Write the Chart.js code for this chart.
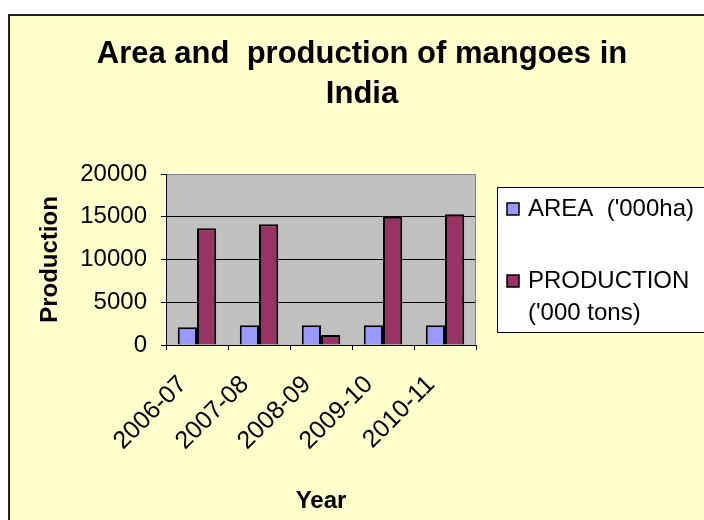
<!DOCTYPE html>
<html>
<head>
<meta charset="utf-8">
<script src="https://cdn.jsdelivr.net/npm/chart.js@4"></script>
<style>
html,body{margin:0;padding:0;background:#fff;}
#wrap{position:relative;width:704px;height:520px;}
</style>
</head>
<body>
<div id="wrap"><canvas id="c" width="704" height="520"></canvas></div>
<script>
const categories = ['2006-07', '2007-08', '2008-09', '2009-10', '2010-11'];
const areaValues = [2070, 2300, 2300, 2300, 2300];
const productionValues = [13650, 14120, 1170, 15010, 15290];
const yTicks = [0, 5000, 10000, 15000, 20000];
const seriesNames = ["AREA  ('000ha)", "PRODUCTION ('000 tons)"];
const titleLines = ['Area and  production of mangoes in', 'India'];

const FONT = "Arial, 'Liberation Sans', sans-serif";

const framePlugin = {
  id: 'frame',
  beforeDraw(chart) {
    const ctx = chart.ctx;
    const a = chart.chartArea;
    ctx.save();
    ctx.fillStyle = '#ffffff';
    ctx.fillRect(0, 0, chart.width, chart.height);
    ctx.fillStyle = '#FFFFCC';
    ctx.fillRect(8, 14, chart.width, chart.height);
    ctx.strokeStyle = '#222222';
    ctx.lineWidth = 2;
    ctx.beginPath();
    ctx.moveTo(9, chart.height + 5);
    ctx.lineTo(9, 15);
    ctx.lineTo(chart.width + 5, 15);
    ctx.stroke();
    ctx.fillStyle = '#C0C0C0';
    ctx.fillRect(a.left, a.top, a.right - a.left, a.bottom - a.top);
    ctx.restore();
  },
  afterDraw(chart) {
    const ctx = chart.ctx;
    const a = chart.chartArea;
    ctx.save();
    ctx.strokeStyle = '#808080';
    ctx.lineWidth = 1;
    ctx.beginPath();
    ctx.moveTo(Math.round(a.right) - 0.5, a.top);
    ctx.lineTo(Math.round(a.right) - 0.5, a.bottom);
    ctx.stroke();

    // legend
    const bx = 497.5, by = 187.5, bw = 240, bh = 145;
    ctx.fillStyle = '#ffffff';
    ctx.fillRect(bx, by, bw, bh);
    ctx.strokeStyle = '#000000';
    ctx.lineWidth = 1;
    ctx.strokeRect(bx, by, bw, bh);
    const ds = chart.data.datasets;
    const items = [
      {color: ds[0].backgroundColor, lines: ["AREA  ('000ha)"], y: 209},
      {color: ds[1].backgroundColor, lines: ['PRODUCTION', "('000 tons)"], y: 281}
    ];
    ctx.font = '24px ' + FONT;
    ctx.textBaseline = 'middle';
    ctx.textAlign = 'left';
    items.forEach(it => {
      ctx.fillStyle = it.color;
      ctx.fillRect(507, it.y - 6, 12, 12);
      ctx.strokeStyle = '#000';
      ctx.lineWidth = 1.5;
      ctx.strokeRect(507, it.y - 6, 12, 12);
      ctx.fillStyle = '#000';
      it.lines.forEach((t, i) => ctx.fillText(t, 528, it.y + i * 32));
    });
    ctx.restore();
  }
};

new Chart(document.getElementById('c'), {
  type: 'bar',
  data: {
    labels: categories,
    datasets: [
      {label: seriesNames[0], data: areaValues, backgroundColor: '#9999FF', borderColor: '#000000', borderWidth: 2},
      {label: seriesNames[1], data: productionValues, backgroundColor: '#993366', borderColor: '#000000', borderWidth: 2}
    ]
  },
  options: {
    responsive: false,
    animation: false,
    events: [],
    layout: {padding: {left: 20, right: 0, top: 0, bottom: 0}},
    datasets: {bar: {categoryPercentage: 0.62, barPercentage: 1.0}},
    plugins: {
      legend: {display: false},
      tooltip: {enabled: false},
      title: {
        display: true,
        text: titleLines,
        color: '#000',
        font: {family: FONT, size: 31, weight: 'bold', lineHeight: 1.3},
        padding: {top: 34, bottom: 59.4}
      }
    },
    scales: {
      x: {
        offset: true,
        grid: {display: true, drawOnChartArea: false, drawTicks: true, tickLength: 5, color: '#000', offset: true},
        border: {display: true, color: '#000', width: 1},
        ticks: {color: '#000', font: {family: FONT, size: 25}, minRotation: 45, maxRotation: 45, padding: 20, labelOffset: -14, autoSkip: false},
        title: {display: true, text: 'Year', color: '#000', font: {family: FONT, size: 24, weight: 'bold', lineHeight: 1.2}, padding: {top: 0, bottom: 4}},
        afterFit: s => { s.height = 175; }
      },
      y: {
        min: 0, max: 20000,
        afterBuildTicks: s => { s.ticks = yTicks.map(v => ({value: v})); },
        grid: {color: ctx => (ctx.tick && ctx.tick.value === 20000 ? '#808080' : '#000'), lineWidth: 1, drawTicks: true, tickLength: 5, tickColor: '#000'},
        border: {display: true, color: '#000', width: 1},
        ticks: {color: '#000', font: {family: FONT, size: 24}, padding: 14, callback: v => String(v)},
        title: {display: true, text: 'Production', color: '#000', font: {family: FONT, size: 24, weight: 'bold', lineHeight: 1.2}, padding: {top: 15.6, bottom: 0}},
        afterFit: s => { s.width = 146; }
      },
      yR: {
        type: 'linear',
        position: 'right',
        display: true,
        grid: {display: false, drawTicks: false},
        border: {display: false},
        ticks: {display: false},
        afterFit: s => { s.width = 228; }
      }
    }
  },
  plugins: [framePlugin]
});
</script>
</body>
</html>
